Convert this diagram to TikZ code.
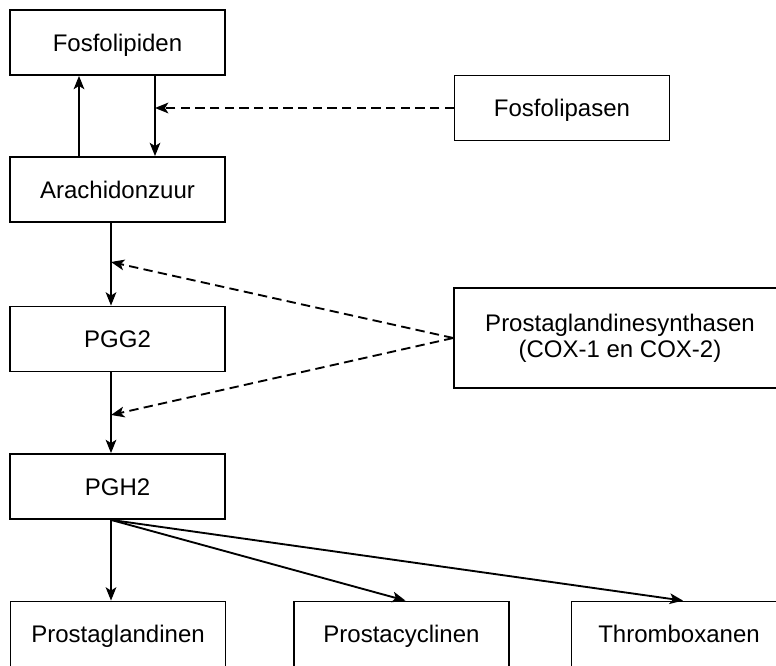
\documentclass[tikz,border=0pt]{standalone}
\usepackage{fontspec}
\setmainfont{Liberation Sans}
\usepackage{tikz}
\usetikzlibrary{arrows.meta,shapes}

\tikzset{
  stap/.style={draw, line width=1.1pt, minimum width=161pt, minimum height=49pt,
    align=center, inner sep=0pt, text height=13.5pt, text depth=0.6pt,
    font=\fontsize{18}{21.6}\selectfont},
  flow/.style={line width=1.4pt, -{Stealth[length=10pt,width=8pt,inset=2.5pt]}},
  enzym/.style={flow, dash pattern=on 7pt off 4pt}
}

\begin{document}
\begin{tikzpicture}[x=0.75pt, y=-0.75pt]
        \clip (0,0) rectangle (776,666);
        % kolommen voor de pijlen
        \coordinate (up) at (79,0);
        \coordinate (down) at (155,0);
        \coordinate (main) at (111,0);
        \coordinate (in1) at (111,262);
        \coordinate (in2) at (111,415);

        \node[stap] (fosfo) at (117.5,42.5) {Fosfolipiden};
        \node[stap] (lipase) at (562,108) {Fosfolipasen};
        \node[stap] (arach) at (117.5,189.5) {Arachidonzuur};
        \node[stap] (pgg) at (117.5,339) {PGG2};
        \node[stap, text height=, text depth=, minimum width=249pt, minimum height=75pt,
            font=\fontsize{18}{19.5}\selectfont] (synth) at (620,338)
            {Prostaglandinesynthasen\\(COX-1 en COX-2)};
        \node[stap] (pgh) at (117.5,486.5) {PGH2};
        \node[stap] (pgl) at (118,634) {Prostaglandinen};
        \node[stap] (pcy) at (401.5,634) {Prostacyclinen};
        \node[stap] (txa) at (679,634) {Thromboxanen};

        \draw[flow] (arach.north -| up) -- (fosfo.south -| up);
        \draw[flow] (fosfo.south -| down) -- (arach.north -| down);
        \draw[enzym] (lipase.west) -- (lipase.west -| down);
        \draw[flow] (arach.south -| main) -- (pgg.north -| main);
        \draw[flow] (pgg.south -| main) -- (pgh.north -| main);
        \draw[enzym] (synth.west) -- (in1);
        \draw[enzym] (synth.west) -- (in2);
        \draw[flow] (pgh.south -| main) -- (pgl.north -| main);
        \draw[flow] (pgh.south -| main) -- ([xshift=3pt]pcy.north);
        \draw[flow] (pgh.south -| main) -- ([xshift=3pt]txa.north);
\end{tikzpicture}
\end{document}
